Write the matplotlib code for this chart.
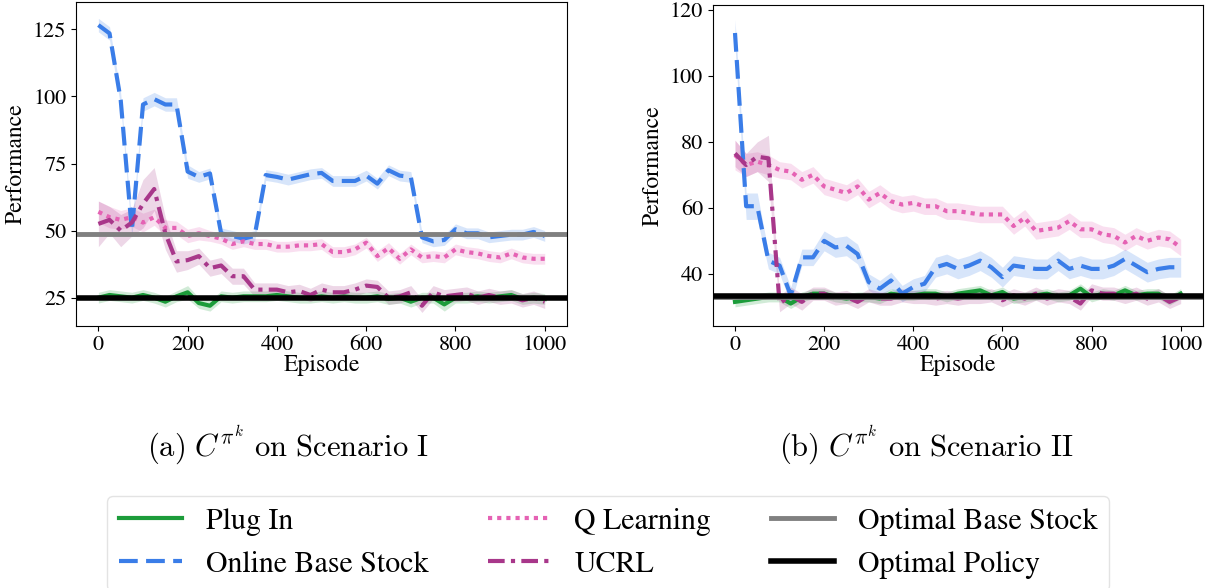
import numpy as np
import matplotlib.pyplot as plt

plt.rcParams['font.family'] = ['STIXGeneral', 'Liberation Serif', 'DejaVu Serif']
plt.rcParams['mathtext.fontset'] = 'cm'

episodes = list(range(0, 1001, 25))

# ---- Scenario I ----
a_plugin = [25, 26, 25.5, 25, 26, 25, 23.5, 25.5, 27, 23, 22, 25.5, 25, 25.5, 25.5, 25.5, 26, 25.5, 25, 25, 25.5,
            25, 25.5, 25, 25, 25.5, 24.5, 25, 23.5, 25, 25, 22.5, 25, 25, 25.5, 25, 25.5, 26, 24.5, 25, 24.5]
a_online = [126.6, 123.5, 98.7, 50, 97, 99, 97, 97, 72, 70, 71.3, 49, 48, 47, 48, 70.7, 70, 69, 70, 71, 71.5,
            68.5, 68.5, 68.5, 70.5, 67.5, 72.5, 70.5, 70, 47.5, 46, 46.5, 50.5, 49, 49, 47.5, 48, 48.5, 48.5, 49.5, 48]
a_qlearn = [57, 55, 54, 55, 53, 55, 51, 51, 48, 49, 48, 47, 45, 46, 45, 45, 44, 44, 44.5, 44.5, 45,
            42, 42, 43, 45.5, 40.5, 43.5, 39.5, 43, 40, 40.5, 40, 43, 42, 41.5, 40.5, 40, 41.5, 40, 39.5, 39.5]
a_ucrl = [52.5, 54, 50, 53, 60, 65.5, 49, 38.5, 39, 40.5, 36, 37, 33, 33, 28, 28, 28, 27, 27.5, 26, 28,
          27, 27, 28, 29.5, 29, 25, 25.5, 27, 22, 27, 25.5, 26, 26.5, 25, 26, 25, 25.5, 24, 25, 23.5]
a_base_stock = 48.6
a_optimal = 25.0

a_plugin_sd = [2, 2, 2, 2, 2, 2, 2, 2, 2.5, 2, 2, 2, 2, 2, 2, 2, 2, 2, 2, 2, 2,
               2, 2, 2, 2, 2, 2, 2, 2, 2, 2, 2.5, 2, 2, 2, 2, 2, 2, 2, 2, 2]
a_online_sd = [2.5, 2.5, 2.5, 2.5, 2.5, 2.5, 2.5, 2.5, 2.5, 2, 2, 2, 2, 2, 2, 2, 2, 2, 2, 2, 2,
               2, 2, 2, 2, 2, 2, 2, 2, 2, 2, 2, 2, 2, 2, 2, 2, 2, 2, 2, 2]
a_qlearn_sd = [4, 4, 3.5, 3.5, 3.5, 3, 3, 2.5, 2.5, 2.5, 2, 2, 2, 2, 2, 2, 2, 2, 2, 2, 2,
               2, 2, 2, 2, 2, 2, 2, 2, 2, 2, 2, 2, 2, 2, 2, 2, 2, 2, 2, 2]
a_ucrl_sd = [8.5, 5, 6, 5, 9, 8, 6, 4, 3.5, 3, 3, 3, 3, 3, 2.5, 2.5, 2.5, 2.5, 2.5, 2.5, 2.5,
             2.5, 2.5, 2.5, 2.5, 2.5, 2.5, 2.5, 2.5, 2.5, 2.5, 2.5, 2.5, 2.5, 2.5, 2.5, 2.5, 2.5, 2.5, 2.5, 2.5]

# ---- Scenario II ----
b_plugin = [31.5, 32, 32.5, 33, 33, 31, 33, 34, 34, 33, 32.5, 33, 33, 32.5, 34, 33.5, 33.5, 34, 34, 33, 34,
            34.5, 35, 33.5, 34.5, 32.5, 33, 33.5, 34, 33, 33.5, 35.5, 33, 34, 33.5, 35, 33.5, 34, 34, 32, 34]
b_online = [113, 60.5, 60.5, 44, 42.5, 33.5, 45, 45, 50, 48, 48.5, 46, 37.5, 35.5, 38, 34, 36, 37, 42, 43, 41.5,
            42.5, 44, 42, 39, 42.5, 42, 41.5, 41.5, 44, 41.5, 42.5, 41.5, 41.5, 42.5, 44.5, 42.5, 40.5, 41.5, 42, 42]
b_qlearn = [76, 73, 74, 73, 71.5, 71, 68.5, 70, 66.5, 65.5, 64.5, 66.5, 62.5, 64.5, 62, 61, 61.5, 60.5, 60.5, 59, 59,
            58.5, 58, 58, 58, 54.5, 57, 53, 53.5, 54, 56, 53.5, 53.5, 52, 51.5, 49.5, 51.5, 50, 51, 50.5, 48]
b_ucrl = [76.5, 73, 75.5, 75, 31, 33.5, 31.5, 34, 34, 32.5, 33, 31.5, 33.5, 32.5, 32.5, 33.5, 33, 33, 32.5, 33, 32.5,
          33, 33, 33.5, 32, 33.5, 32.5, 34, 32.5, 33.5, 33, 31, 35, 34, 34, 33, 34, 32.5, 33.5, 31.5, 33]
b_base_stock = 32.9
b_optimal = 33.3

b_plugin_sd = [1.5, 1.5, 1.5, 1.5, 1.5, 1.5, 1.5, 1.5, 1.5, 1.5, 1.5, 1.5, 1.5, 1.5, 1.5, 1.5, 1.5, 1.5, 1.5, 1.5, 1.5,
               1.5, 1.5, 1.5, 1.5, 1.5, 1.5, 1.5, 1.5, 1.5, 1.5, 1.5, 1.5, 1.5, 1.5, 1.5, 1.5, 1.5, 1.5, 1.5, 1.5]
b_online_sd = [4, 4, 4, 2.5, 2.5, 2.5, 2.5, 2.5, 3, 3, 3, 3, 2.5, 2.5, 2.5, 2.5, 2.5, 2.5, 3, 3, 3,
               3, 3, 3, 3, 3, 3, 3, 3, 3, 3, 3, 3, 3, 3, 3, 3, 3, 3, 3, 3]
b_qlearn_sd = [4.5, 3.5, 3, 3, 2.5, 2.5, 2.5, 2.5, 2.5, 2.5, 2.5, 2.5, 2.5, 2.5, 2.5, 2.5, 2.5, 2.5, 2.5, 2.5, 2.5,
               2.5, 2.5, 2.5, 2.5, 2.5, 2.5, 2.5, 2.5, 2.5, 2.5, 2.5, 2.5, 2.5, 2.5, 2.5, 2.5, 2.5, 2.5, 2.5, 2.5]
b_ucrl_sd = [4, 3.5, 4.5, 7, 2.5, 2.5, 2.5, 2, 2, 2, 2, 2, 2, 2, 2, 2, 2, 2, 2, 2, 2,
             2, 2, 2, 2, 2, 2, 2, 2, 2, 2, 2, 2, 2, 2, 2, 2, 2, 2, 2, 2]

col_plugin = '#1c9c3a'
col_online = '#3a7de8'
col_qlearn = '#e562b4'
col_ucrl = '#a8378a'

fig = plt.figure(figsize=(12.15, 5.88), dpi=100)
ax_a = fig.add_axes([0.0626, 0.4456, 0.4041, 0.551])
ax_b = fig.add_axes([0.5866, 0.4456, 0.4035, 0.546])


def draw_panel(ax, plugin, online, qlearn, ucrl, sds, base_stock, optimal):
    x = np.array(episodes)
    series = [
        (plugin, sds[0], col_plugin, '-', 'Plug In'),
        (online, sds[1], col_online, (0, (4.5, 2)), 'Online Base Stock'),
        (qlearn, sds[2], col_qlearn, (0, (1, 1.2)), 'Q Learning'),
        (ucrl, sds[3], col_ucrl, (0, (4, 1.5, 1, 1.5)), 'UCRL'),
    ]
    handles = []
    for y, sd, c, ls, name in series:
        y = np.array(y)
        sd = np.array(sd)
        ax.fill_between(x, y - sd, y + sd, color=c, alpha=0.2, lw=0)
        h, = ax.plot(x, y, color=c, ls=ls, lw=3, label=name)
        handles.append(h)
    h, = ax.plot([-50, 1050], [base_stock, base_stock], color='#808080', lw=3.5, label='Optimal Base Stock')
    handles.append(h)
    h, = ax.plot([-50, 1050], [optimal, optimal], color='black', lw=4, label='Optimal Policy')
    handles.append(h)
    ax.set_xlim(-50, 1050)
    ax.set_xticks([0, 200, 400, 600, 800, 1000])
    ax.set_xlabel('Episode', fontsize=17, labelpad=-1)
    ax.set_ylabel('Performance', fontsize=17)
    ax.yaxis.set_label_coords(-0.1, 0.5)
    ax.tick_params(labelsize=16)
    return handles


handles = draw_panel(ax_a, a_plugin, a_online, a_qlearn, a_ucrl,
                     [a_plugin_sd, a_online_sd, a_qlearn_sd, a_ucrl_sd], a_base_stock, a_optimal)
ax_a.set_ylim(14.45, 135.2)
ax_a.set_yticks([25, 50, 75, 100, 125])

draw_panel(ax_b, b_plugin, b_online, b_qlearn, b_ucrl,
           [b_plugin_sd, b_online_sd, b_qlearn_sd, b_ucrl_sd], b_base_stock, b_optimal)
ax_b.set_ylim(24.2, 121.5)
ax_b.set_yticks([40, 60, 80, 100, 120])

fig.text(0.237, 0.243, r'$\mathrm{(a)}\ C^{\pi^k}\ \mathrm{on\ Scenario\ I}$', fontsize=22, ha='center', va='center')
fig.text(0.762, 0.243, r'$\mathrm{(b)}\ C^{\pi^k}\ \mathrm{on\ Scenario\ II}$', fontsize=22, ha='center', va='center')

leg = fig.legend(handles, [h.get_label() for h in handles],
                 loc='upper center', bbox_to_anchor=(0.5004, 0.1565), ncol=3, fontsize=21.5,
                 frameon=True, fancybox=True, handlelength=2.1, handletextpad=0.8, columnspacing=2.0,
                 borderaxespad=0, labelspacing=0.5, borderpad=0.4)
leg.get_frame().set_edgecolor('#dddddd')

fig.savefig('out.png', dpi=100)
